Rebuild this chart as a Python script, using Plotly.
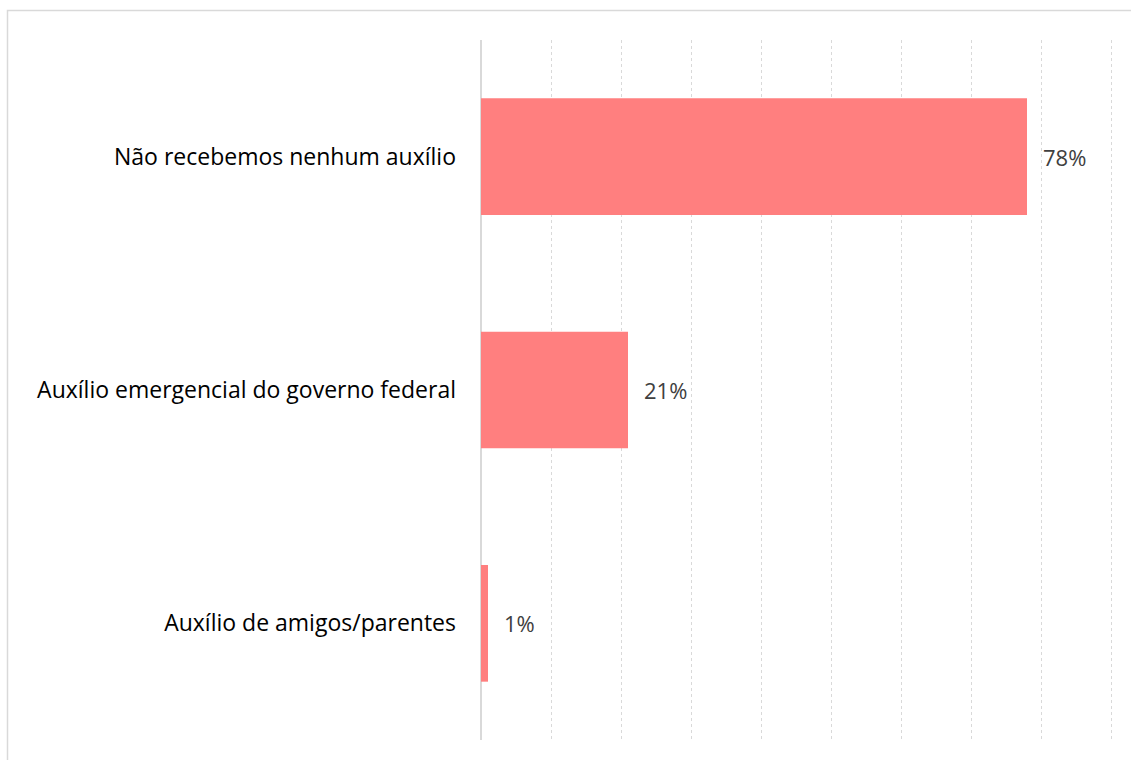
import plotly.graph_objects as go

# Survey answers: which kind of aid the household received
categorias = [
    "Não recebemos nenhum auxílio",
    "Auxílio emergencial do governo federal",
    "Auxílio de amigos/parentes",
]
percentuais = [0.78, 0.21, 0.01]
rotulos = [f"{round(v * 100)}%" for v in percentuais]

COR_BARRA = "#FF7F7F"
COR_GRADE = "#D9D9D9"
FONTE = "'Open Sans', 'Noto Sans', sans-serif"

fig = go.Figure(
    go.Bar(
        x=percentuais,
        y=categorias,
        orientation="h",
        marker=dict(color=COR_BARRA, line=dict(width=0)),
        hoverinfo="skip",
    )
)

# Value labels placed just past the end of each bar
for cat, val, txt in zip(categorias, percentuais, rotulos):
    fig.add_annotation(
        x=val, y=cat, text=txt, showarrow=False,
        xanchor="left", yanchor="middle", xshift=14,
        font=dict(size=22, color="#404040", family=FONTE),
    )

# Plot area spans 0–91 %, 7 px per percentage point
esq, dir_, topo, base = 481, 1118, 40, 740
largura = dir_ - esq
altura = base - topo

# Light outer frame around the chart area
fig.add_shape(
    type="rect", xref="paper", yref="paper",
    x0=(7.5 - esq) / largura, x1=(1140 - esq) / largura,
    y0=(base - 770) / altura, y1=(base - 10.5) / altura,
    line=dict(color=COR_GRADE, width=1.5), fillcolor="rgba(0,0,0,0)",
    layer="below",
)

fig.update_layout(
    width=1131,
    height=760,
    margin=dict(l=esq, r=1131 - dir_, t=topo, b=760 - base),
    paper_bgcolor="white",
    plot_bgcolor="white",
    bargap=0.5,
    showlegend=False,
    font=dict(family=FONTE, size=20, color="#000000"),
    xaxis=dict(
        range=[0, 0.91],
        dtick=0.1,
        showticklabels=False,
        showgrid=True,
        gridcolor=COR_GRADE,
        griddash="dot",
        gridwidth=1,
        zeroline=True,
        zerolinecolor=COR_GRADE,
        zerolinewidth=1.5,
        showline=False,
        fixedrange=True,
    ),
    yaxis=dict(
        autorange="reversed",
        showgrid=False,
        showline=False,
        zeroline=False,
        ticks="",
        ticklabelstandoff=24,
        tickfont=dict(size=23, color="#000000", family=FONTE),
        fixedrange=True,
    ),
)

fig.write_html("out.html")
